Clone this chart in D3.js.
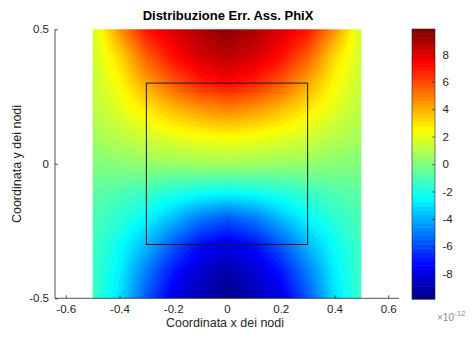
<!DOCTYPE html>
<html><head><meta charset="utf-8">
<script src="https://cdn.jsdelivr.net/npm/d3@7"></script>
<style>body{margin:0;background:#fff}svg{display:block;font-family:"Liberation Sans",Arial,Helvetica,sans-serif}</style>
</head><body><svg id="chart" width="472" height="343"></svg>
<script>
// ---- data (values in units of 1e-12) ----
const titleText = "Distribuzione Err. Ass. PhiX";
const xLabelText = "Coordinata x dei nodi";
const yLabelText = "Coordinata y dei nodi";
const xNodes = [-0.5,-0.4,-0.3,-0.2,-0.1,0,0.1,0.2,0.3,0.4,0.5];
const yNodes = [0.5,0.4,0.3,0.2,0.1,0,-0.1,-0.2,-0.3,-0.4,-0.5];
const errYp05 = [1.5,4.6,7.1,8.1,9.0,9.6,9.0,8.1,7.1,4.6,1.5];
const errYp04 = [1.5,3.2,5.6,7.2,8.2,8.7,8.2,7.2,5.6,3.2,1.5];
const errYp03 = [1.3,2.5,4.2,5.7,6.8,7.3,6.8,5.7,4.2,2.5,1.3];
const errYp02 = [1.1,1.9,2.8,3.7,4.4,4.8,4.4,3.7,2.8,1.9,1.1];
const errYp01 = [0.7,1.1,1.6,2.0,2.3,2.5,2.3,2.0,1.6,1.1,0.7];
const errY000 = [0.0,0.2,0.4,0.5,0.6,0.7,0.6,0.5,0.4,0.2,0.0];
const errYm01 = [-0.6,-0.9,-1.3,-1.7,-2.0,-2.2,-2.0,-1.7,-1.3,-0.9,-0.6];
const errYm02 = [-1.0,-1.6,-2.5,-3.7,-5.0,-5.6,-5.0,-3.7,-2.5,-1.6,-1.0];
const errYm03 = [-1.2,-2.3,-3.8,-5.7,-7.2,-7.9,-7.2,-5.7,-3.8,-2.3,-1.2];
const errYm04 = [-1.3,-2.7,-5.0,-7.0,-8.3,-9.0,-8.3,-7.0,-5.0,-2.7,-1.3];
const errYm05 = [-1.3,-3.0,-5.7,-7.9,-8.9,-9.6,-8.9,-7.9,-5.7,-3.0,-1.3];
const errGrid = [errYp05,errYp04,errYp03,errYp02,errYp01,errY000,errYm01,errYm02,errYm03,errYm04,errYm05];
const squareX = [-0.3, 0.3];
const squareY = [-0.3, 0.3];
const xTicks = [-0.6,-0.4,-0.2,0,0.2,0.4,0.6];
const yTicks = [-0.5,0,0.5];
const cbTicks = [-8,-6,-4,-2,0,2,4,6,8];
const cLim = [-9.85, 9.85];
const xLim = [-0.64, 0.64];
const yLim = [-0.5, 0.5];

// ---- setup ----
const svg = d3.select("#chart");
svg.append("rect").attr("width",472).attr("height",343).attr("fill","#fff");
const axisColor = "#262626";
const tickFont = 11.5;
const x = d3.scaleLinear().domain(xLim).range([55, 399]);
const y = d3.scaleLinear().domain(yLim).range([298.3, 29.3]);

// jet colormap (64 levels)
const jetStops = [0, 1/8, 3/8, 5/8, 7/8, 1];
const jetColors = ["#00007f","#0000ff","#00ffff","#ffff00","#ff0000","#7f0000"];
const jetT = d3.scaleLinear().domain(jetStops).range(jetColors).interpolate(d3.interpolateRgb).clamp(true);
const nLevels = 64;
const norm = d3.scaleLinear().domain(cLim).range([0,1]).clamp(true);
function colorOf(v){
  const k = Math.min(nLevels-1, Math.floor(norm(v)*nLevels));
  return jetT((k+0.5)/nLevels);
}

function fieldAt(px, py){
  const nx = xNodes.length, ny = yNodes.length;
  let fx = (px - xNodes[0])/(xNodes[1]-xNodes[0]);
  let fy = (py - yNodes[0])/(yNodes[1]-yNodes[0]);
  fx = Math.max(0, Math.min(nx-1, fx));
  fy = Math.max(0, Math.min(ny-1, fy));
  const i = Math.min(nx-2, Math.floor(fx)), j = Math.min(ny-2, Math.floor(fy));
  const tx = fx-i, ty = fy-j;
  const a = errGrid[j][i], b = errGrid[j][i+1], c = errGrid[j+1][i], d = errGrid[j+1][i+1];
  return (a*(1-tx)+b*tx)*(1-ty) + (c*(1-tx)+d*tx)*ty;
}

// ---- heatmap image ----
const imgL = x(d3.min(xNodes)), imgR = x(d3.max(xNodes));
const imgT = y(d3.max(yNodes)), imgB = y(d3.min(yNodes));
const W = Math.round(imgR-imgL), H = Math.round(imgB-imgT);
const cv = document.createElement("canvas");
cv.width = W; cv.height = H;
const ctx = cv.getContext("2d");
const img = ctx.createImageData(W, H);
for (let r = 0; r < H; r++){
  const dy = y.invert(imgT + (r+0.5)*(imgB-imgT)/H);
  for (let c = 0; c < W; c++){
    const dx = x.invert(imgL + (c+0.5)*(imgR-imgL)/W);
    const col = d3.rgb(colorOf(fieldAt(dx, dy)));
    const o = (r*W + c)*4;
    img.data[o]=col.r; img.data[o+1]=col.g; img.data[o+2]=col.b; img.data[o+3]=255;
  }
}
ctx.putImageData(img,0,0);
svg.append("image").attr("href", cv.toDataURL()).attr("x", imgL).attr("y", imgT)
  .attr("width", imgR-imgL).attr("height", imgB-imgT).attr("preserveAspectRatio","none");

// square
svg.append("rect")
  .attr("x", x(squareX[0])).attr("y", y(squareY[1]))
  .attr("width", x(squareX[1])-x(squareX[0])).attr("height", y(squareY[0])-y(squareY[1]))
  .attr("fill","none").attr("stroke","#1a1a1a").attr("stroke-width",1);

// ---- axes ----
const gx = svg.append("g").attr("transform",`translate(0,${y(yLim[0])})`)
  .call(d3.axisBottom(x).tickValues(xTicks).tickSize(-3).tickPadding(7)
    .tickFormat(d => d === 0 ? "0" : d3.format(".1f")(d)));
const gy = svg.append("g").attr("transform",`translate(${x(xLim[0])},0)`)
  .call(d3.axisLeft(y).tickValues(yTicks).tickSize(-3).tickPadding(6)
    .tickFormat(d => d === 0 ? "0" : String(d)));
[gx, gy].forEach(g => {
  g.select(".domain").attr("stroke", axisColor).attr("stroke-width",0.8);
  g.selectAll(".tick line").attr("stroke", axisColor).attr("stroke-width",0.8);
  g.selectAll(".tick text").attr("fill", axisColor).attr("font-size", tickFont)
    .attr("font-family", '"Liberation Sans",Arial,sans-serif');
});
gx.select(".domain").attr("d", `M${x(xLim[0])},0H${x(xLim[1])}`);
gy.select(".domain").attr("d", `M0,${y(yLim[1])}V${y(yLim[0])}`);
gx.selectAll(".tick text").text(d => d === 0 ? "0" : d3.format(".1f")(d).replace("\u2212", "-"));
gy.selectAll(".tick text").text(d => d === 0 ? "0" : String(d));

// ---- labels ----
svg.append("text").attr("x", 228).attr("y", 20).attr("text-anchor","middle")
  .attr("font-weight","bold").attr("font-size",13).attr("fill","#000").text(titleText);
svg.append("text").attr("x", 225).attr("y", 327).attr("text-anchor","middle")
  .attr("font-size",12.5).attr("fill",axisColor).text(xLabelText);
svg.append("text").attr("transform","translate(21,164) rotate(-90)").attr("text-anchor","middle")
  .attr("font-size",12.5).attr("fill",axisColor).text(yLabelText);

// ---- colorbar ----
const cbX = 412, cbW = 23;
const cy = d3.scaleLinear().domain(cLim).range([299, 29]);
const levels = d3.range(nLevels);
const step = (cLim[1]-cLim[0])/nLevels;
svg.append("g").selectAll("rect").data(levels).join("rect")
  .attr("x", cbX).attr("width", cbW)
  .attr("y", k => cy(cLim[0] + (k+1)*step))
  .attr("height", k => cy(cLim[0] + k*step) - cy(cLim[0] + (k+1)*step) + 0.5)
  .attr("fill", k => jetT((k+0.5)/nLevels));
svg.append("rect").attr("x", cbX).attr("y", cy(cLim[1])).attr("width", cbW)
  .attr("height", cy(cLim[0]) - cy(cLim[1])).attr("fill","none").attr("stroke", axisColor).attr("stroke-width",0.6);
const gc = svg.append("g").attr("transform",`translate(${cbX+cbW},0)`)
  .call(d3.axisRight(cy).tickValues(cbTicks).tickSize(-3).tickPadding(7.5));
gc.select(".domain").remove();
gc.selectAll(".tick line").attr("stroke", axisColor).attr("stroke-width",0.6);
gc.selectAll(".tick text").attr("fill", axisColor).attr("font-size", tickFont)
  .attr("font-family", '"Liberation Sans",Arial,sans-serif').text(d => String(d));

const ex = svg.append("text").attr("x", 437).attr("y", 321).attr("font-size", 10).attr("fill","#8a8a8a");
ex.append("tspan").text("\u00d710");
ex.append("tspan").attr("dy", -5).attr("font-size", 8).text("-12");
</script></body></html>
